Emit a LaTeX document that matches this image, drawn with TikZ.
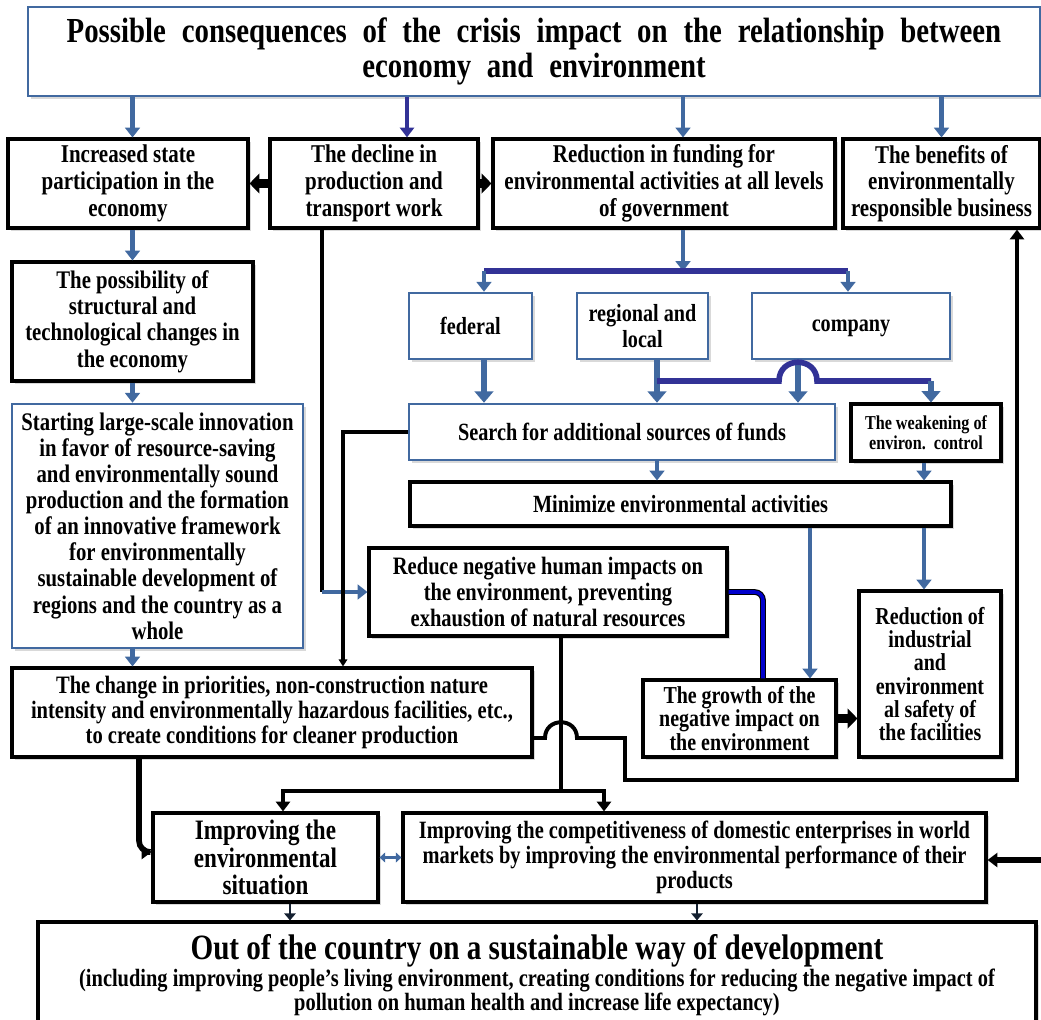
\documentclass[tikz,border=0pt]{standalone}
\usepackage{fontspec}
\setmainfont{Liberation Serif}[FakeStretch=0.82]
\usetikzlibrary{arrows.meta,shadows}
\definecolor{bleu}{RGB}{65,105,160}
\definecolor{marine}{RGB}{50,50,150}
\newcommand\largesespaces{\spaceskip=0.45em\relax}
\begin{document}
\begin{tikzpicture}[x=0.025cm,y=-0.025cm]
	% Styles
	\tikzstyle{boite}=[draw=black,line width=2.2pt,fill=white,align=center,inner sep=1pt,font=\bfseries\fontsize{18.2}{19}\selectfont,drop shadow={opacity=0.3,shadow xshift=2pt,shadow yshift=-2pt}]
	\tikzstyle{boitebleue}=[boite,draw=bleu,line width=1.8pt]
	\tikzstyle{flechebleue}=[draw=bleu,line width=3.2pt,-{Triangle[length=7pt,width=10.5pt]}]
	\tikzstyle{grossefleche}=[draw=bleu,line width=4.5pt,-{Triangle[length=8pt,width=13pt]}]
	\tikzstyle{flechenoire}=[draw=black,line width=2.8pt,-{Triangle[length=7pt,width=10pt]}]
	\tikzstyle{grossenoire}=[draw=black,line width=6pt,-{Triangle[length=7pt,width=14pt]}]
	\tikzstyle{flechemince}=[draw=black!70!bleu,line width=2pt,-{Triangle[length=5pt,width=8pt]}]
	\tikzstyle{lignenoire}=[draw=black,line width=2.8pt]
	\tikzstyle{lignemarine}=[draw=marine,line width=4pt]
	\tikzstyle{doublebleue}=[draw=black,double=blue!80!black,double distance=2.5pt,line width=0.8pt,rounded corners=6pt]
	% Dimensions
	\def\px{0.025cm}
	\useasboundingbox (0,0) rectangle (1041,1020);
	% Noeuds
	\node[boitebleue,line width=2pt,drop shadow={opacity=0},minimum width=1012*\px,minimum height=89*\px,font=\bfseries\fontsize{25}{25}\selectfont\largesespaces] (titre) at (534,51.5) {Possible consequences of the crisis impact on the relationship between\\economy and environment};
	\node[boite,minimum width=240*\px,minimum height=89*\px] (etat) at (128,183.5) {Increased state\\participation in the\\economy};
	\node[boite,minimum width=208*\px,minimum height=89*\px] (declin) at (374,183.5) {The decline in\\production and\\transport work};
	\node[boite,minimum width=342*\px,minimum height=89*\px] (financement) at (664,183.5) {Reduction in funding for\\environmental activities at all levels\\of government};
	\node[boite,minimum width=197*\px,minimum height=89*\px] (avantages) at (941.5,183.5) {The benefits of\\environmentally\\responsible business};
	\node[boite,minimum width=241*\px,minimum height=119*\px,font=\bfseries\fontsize{18}{18.8}\selectfont] (possibilite) at (132.5,321.5) {The possibility of\\structural and\\technological changes in\\the economy};
	\node[boitebleue,minimum width=291*\px,minimum height=244*\px,font=\bfseries\fontsize{18}{18.6}\selectfont] (innovation) at (157.5,526) {Starting large-scale innovation\\in favor of resource-saving\\and environmentally sound\\production and the formation\\of an innovative framework\\for environmentally\\sustainable development of\\regions and the country as a\\whole};
	\node[boitebleue,minimum width=123*\px,minimum height=66*\px,font=\bfseries\fontsize{17.5}{18.5}\selectfont] (federal) at (470.5,326) {federal};
	\node[boitebleue,minimum width=131*\px,minimum height=66*\px,font=\bfseries\fontsize{17.5}{18.5}\selectfont] (regional) at (642.5,326) {regional and\\local};
	\node[boitebleue,minimum width=198*\px,minimum height=66*\px,font=\bfseries\fontsize{17.5}{18.5}\selectfont] (company) at (851,326) {\strut company};
	\node[boitebleue,minimum width=426*\px,minimum height=56*\px,font=\bfseries\fontsize{17.6}{19}\selectfont] (recherche) at (622,432) {Search for additional sources of funds};
	\node[boite,minimum width=150*\px,minimum height=57*\px,font=\bfseries\fontsize{14}{14}\selectfont] (affaiblissement) at (926,432.5) {The weakening of\\environ.\ \ control};
	\node[boite,minimum width=541*\px,minimum height=44*\px,font=\bfseries\fontsize{17.6}{19}\selectfont] (minimiser) at (680.5,504) {Minimize environmental activities};
	\node[boite,minimum width=358*\px,minimum height=88*\px,font=\bfseries\fontsize{17.8}{18.8}\selectfont] (reduire) at (548,592) {Reduce negative human impacts on\\the environment, preventing\\exhaustion of natural resources};
	\node[boite,minimum width=193*\px,minimum height=77*\px,font=\bfseries\fontsize{17.3}{16.5}\selectfont] (croissance) at (739.5,718.5) {The growth of the\\negative impact on\\the environment};
	\node[boite,minimum width=142*\px,minimum height=166*\px,font=\bfseries\fontsize{17.3}{16.5}\selectfont] (securite) at (930,674) {Reduction of\\industrial\\and\\environment\\al safety of\\the facilities};
	\node[boite,minimum width=520*\px,minimum height=89*\px,font=\bfseries\fontsize{17.8}{18}\selectfont] (changement) at (272,712.5) {The change in priorities, non-construction nature\\intensity and environmentally hazardous facilities, etc.,\\to create conditions for cleaner production};
	\node[boite,minimum width=225*\px,minimum height=89*\px,font=\bfseries\fontsize{20}{19.5}\selectfont] (amelioration) at (265.5,857.5) {Improving the\\environmental\\situation};
	\node[boite,minimum width=583*\px,minimum height=89*\px,font=\bfseries\fontsize{17.7}{17.7}\selectfont] (competitivite) at (694.5,857.5) {Improving the competitiveness of domestic enterprises in world\\markets by improving the environmental performance of their\\products};
	\node[boite,drop shadow={opacity=0},minimum width=998*\px,minimum height=106*\px,font=\bfseries\fontsize{17.7}{17}\selectfont] (sortie) at (537,975) {{\fontsize{25.3}{25}\selectfont Out of the country on a sustainable way of development}\\(including improving people{\char"27}s living environment, creating conditions for reducing the negative impact of\\pollution on human health and increase life expectancy)};
	% Points de passage
	\coordinate (xdec) at (407,0);
	\coordinate (jfin) at (683,271);
	\coordinate (jfed) at (484,271);
	\coordinate (jcomp) at (848,271);
	\coordinate (jreg) at (657,381);
	\coordinate (jcomp2) at (798,381);
	\coordinate (jaff) at (931,381);
	\coordinate (xdroite) at (924,0);
	\coordinate (xcroiss) at (810,0);
	\coordinate (cdec) at (322,592);
	\coordinate (crech) at (343,432);
	\coordinate (crc) at (763,592);
	\coordinate (chop) at (561,738);
	\coordinate (jbas) at (561,791);
	\coordinate (jg) at (283,791);
	\coordinate (jd) at (604,791);
	\coordinate (cchg) at (139,852);
	\coordinate (cav) at (1017,780);
	\coordinate (bordd) at (1041,860);
	\coordinate (xbas1) at (290,0);
	\coordinate (xbas2) at (697,0);
	% Arcs depuis le titre
	\draw[flechebleue] (titre.south -| possibilite.north) -- (etat.north -| possibilite.north);
	\draw[lignemarine,line width=3pt,-{Triangle[length=7pt,width=10pt]}] (titre.south -| xdec) -- (declin.north -| xdec);
	\draw[flechebleue] (titre.south -| jfin) -- (financement.north -| jfin);
	\draw[flechebleue] (titre.south -| avantages.north) -- (avantages.north);
	\draw[grossenoire] (declin.west) -- (etat.east);
	\draw[grossenoire] (declin.east) -- (financement.west);
	% Colonne de gauche
	\draw[flechebleue] (etat.south -| possibilite.north) -- (possibilite.north);
	\draw[flechebleue] (possibilite.south) -- (innovation.north -| possibilite.south);
	\draw[flechebleue] (innovation.south -| possibilite.south) -- (changement.north -| possibilite.south);
	% Niveaux de financement
	\draw[flechebleue] (financement.south -| jfin) -- (jfin);
	\draw[lignemarine] (jfed) -- (jcomp);
	\draw[flechebleue] (jfed) -- (federal.north -| jfed);
	\draw[flechebleue] (jcomp) -- (company.north -| jcomp);
	\draw[grossefleche] (federal.south -| jfed) -- (recherche.north -| jfed);
	\draw[grossefleche] (regional.south -| jreg) -- (recherche.north -| jreg);
	\draw[grossefleche] (company.south -| jcomp2) -- (recherche.north -| jcomp2);
	\draw[lignemarine] (jreg) -- (779,381) .. controls (779,356) and (817,356) .. (817,381) -- (jaff);
	\draw[grossefleche] (jaff) -- (affaiblissement.north -| jaff);
	% Minimisation
	\draw[flechebleue] (recherche.south -| jreg) -- (minimiser.north -| jreg);
	\draw[flechebleue] (affaiblissement.south -| xdroite) -- (minimiser.north -| xdroite);
	\draw[flechebleue] (minimiser.south -| xcroiss) -- (croissance.north -| xcroiss);
	\draw[flechebleue] (minimiser.south -| xdroite) -- (securite.north -| xdroite);
	% Vers la reduction des impacts
	\draw[lignenoire] (declin.south -| cdec) -- (cdec);
	\draw[flechebleue] (cdec) -- (reduire.west);
	\draw[lignenoire,-{Triangle[length=5pt,width=6pt]}] (recherche.west) -| (changement.north -| crech);
	\draw[doublebleue] (reduire.east) -| (croissance.north -| crc);
	\draw[grossenoire] (croissance.east) -- (securite.west |- croissance.east);
	% Bas du schema
	\draw[lignenoire] (reduire.south -| jbas) -- (jbas);
	\draw[flechenoire] (jbas) -- (jg) -- (amelioration.north -| jg);
	\draw[flechenoire] (jbas) -- (jd) -- (competitivite.north -| jd);
	\draw[flechenoire] (changement.east |- chop) -- (545,738) .. controls (545,717) and (577,717) .. (577,738) -| (625,780) -| (avantages.south -| cav);
	\draw[flechenoire,line width=4pt,rounded corners=8pt] (changement.south -| cchg) |- (amelioration.west |- cchg);
	\draw[draw=bleu,line width=2pt,{Triangle[length=4pt,width=7pt]}-{Triangle[length=4pt,width=7pt]}] (amelioration.east) -- (competitivite.west);
	\draw[flechemince] (amelioration.south -| xbas1) -- (sortie.north -| xbas1);
	\draw[flechemince] (competitivite.south -| xbas2) -- (sortie.north -| xbas2);
	\draw[flechenoire,line width=4pt] (bordd) -- (competitivite.east |- bordd);
\end{tikzpicture}
\end{document}
